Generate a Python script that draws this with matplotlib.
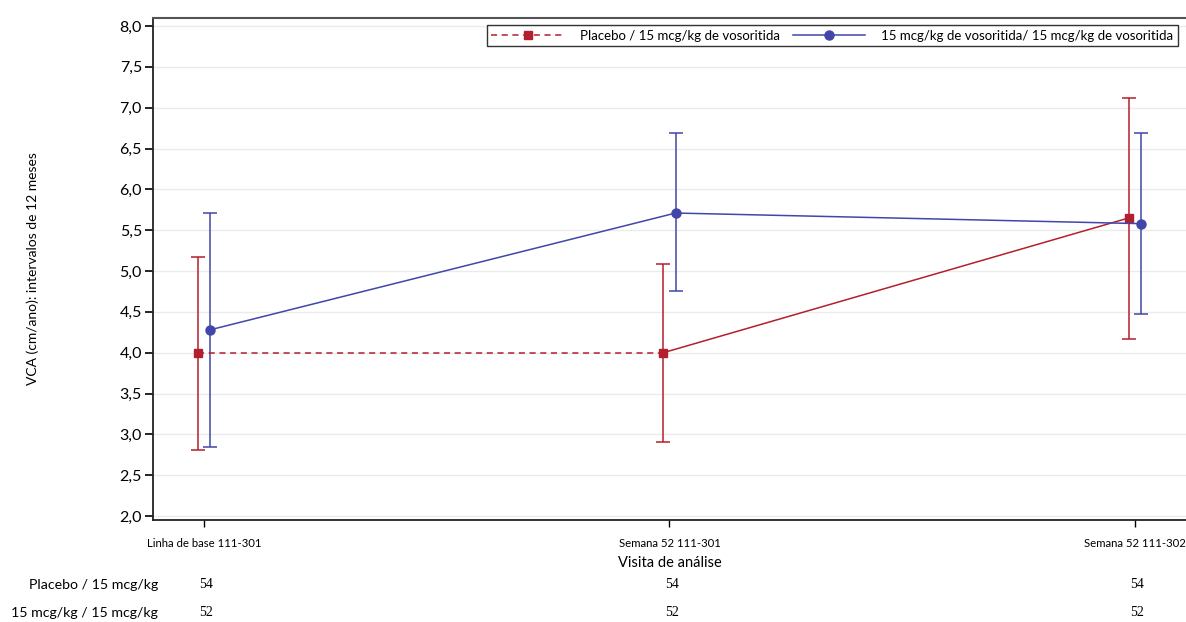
import matplotlib.pyplot as plt
from matplotlib.lines import Line2D

plt.rcParams['font.family'] = ['Lato', 'DejaVu Sans']

visitas = ['Linha de base 111-301', 'Semana 52 111-301', 'Semana 52 111-302']
placebo = [4.0, 4.0, 5.65]
placebo_lo = [2.81, 2.90, 4.17]
placebo_hi = [5.17, 5.08, 7.12]
voso = [4.28, 5.71, 5.58]
voso_lo = [2.85, 4.75, 4.47]
voso_hi = [5.71, 6.69, 6.69]
n_placebo = [54, 54, 54]
n_voso = [52, 52, 52]
grupos = ['Placebo / 15 mcg/kg', '15 mcg/kg / 15 mcg/kg']

red = '#B41F2E'
blue = '#4047A8'

fig = plt.figure(figsize=(11.86, 6.22), dpi=100)
ax = fig.add_axes([0.129, 0.164, 0.871, 0.807])

x = list(range(len(visitas)))
off = 0.013
xr = [i - off for i in x]
xb = [i + off for i in x]

# barras de erro
ax.errorbar(xr, placebo, yerr=[[p - l for p, l in zip(placebo, placebo_lo)],
                               [h - p for p, h in zip(placebo, placebo_hi)]],
            fmt='none', ecolor=red, elinewidth=1.1, capsize=5, capthick=1.1, zorder=2)
ax.errorbar(xb, voso, yerr=[[p - l for p, l in zip(voso, voso_lo)],
                            [h - p for p, h in zip(voso, voso_hi)]],
            fmt='none', ecolor=blue, elinewidth=1.1, capsize=5, capthick=1.1, zorder=2)

# linhas
ax.plot(xr[:2], placebo[:2], color=red, ls=(0, (4, 3)), lw=1.1, zorder=3)
ax.plot(xr[1:], placebo[1:], color=red, ls='-', lw=1.1, zorder=3)
ax.plot(xr, placebo, ls='none', marker='s', ms=5.5, color=red, zorder=4)
ax.plot(xb, voso, color=blue, lw=1.1, marker='o', ms=6.5, zorder=4)

ax.set_xlim(-0.11, 2.11)
ax.set_ylim(1.951, 8.098)
yt = [2.0 + 0.5 * i for i in range(13)]
ax.set_yticks(yt)
ax.set_yticklabels([('%.1f' % v).replace('.', ',') for v in yt], fontsize=11.5)
ax.set_xticks(x)
ax.set_xticklabels(visitas, fontsize=8.2)
ax.tick_params(axis='y', length=6, width=1.2, pad=2)
ax.tick_params(axis='x', length=5, width=1, pad=8)
ax.yaxis.grid(True, color='#EBEBEB', lw=1)
ax.set_axisbelow(True)
ax.spines['right'].set_visible(False)
ax.spines['top'].set_color('#555555')
ax.spines['top'].set_linewidth(1.5)
for s in ['left', 'bottom']:
    ax.spines[s].set_color('#222222')
    ax.spines[s].set_linewidth(1.3)

ax.set_xlabel('Visita de análise', fontsize=10.5, labelpad=5)
ax.set_ylabel('VCA (cm/ano): intervalos de 12 meses', fontsize=10, labelpad=58)

h1 = Line2D([], [], color=red, ls=(0, (4, 3)), lw=1.1, marker='s', ms=5.5)
h2 = Line2D([], [], color=blue, lw=1.1, marker='o', ms=6.5)
leg = ax.legend([h1, h2], ['Placebo / 15 mcg/kg de vosoritida',
                           '15 mcg/kg de vosoritida/ 15 mcg/kg de vosoritida'],
                ncol=2, loc='upper left', bbox_to_anchor=(0.323, 0.986),
                fontsize=9.5, frameon=True, fancybox=False, handlelength=5.5,
                handletextpad=1.2, columnspacing=1.0, borderpad=0.35,
                borderaxespad=0)
leg.get_frame().set_edgecolor('black')
leg.get_frame().set_linewidth(1.0)

# tabela de n
for k, (g, ns) in enumerate(zip(grupos, [n_placebo, n_voso])):
    yy = 1 - (585 + 28 * k) / 622
    fig.text(158 / 1186, yy, g, ha='right', va='center', fontsize=10.2)
    for i, n in enumerate(ns):
        xf = ax.transData.transform((x[i], 0))[0] / fig.bbox.width
        fig.text(xf + 0.002, yy, str(n), ha='center', va='center',
                 fontsize=10, family='Liberation Serif')

fig.savefig('out.png', dpi=100)
